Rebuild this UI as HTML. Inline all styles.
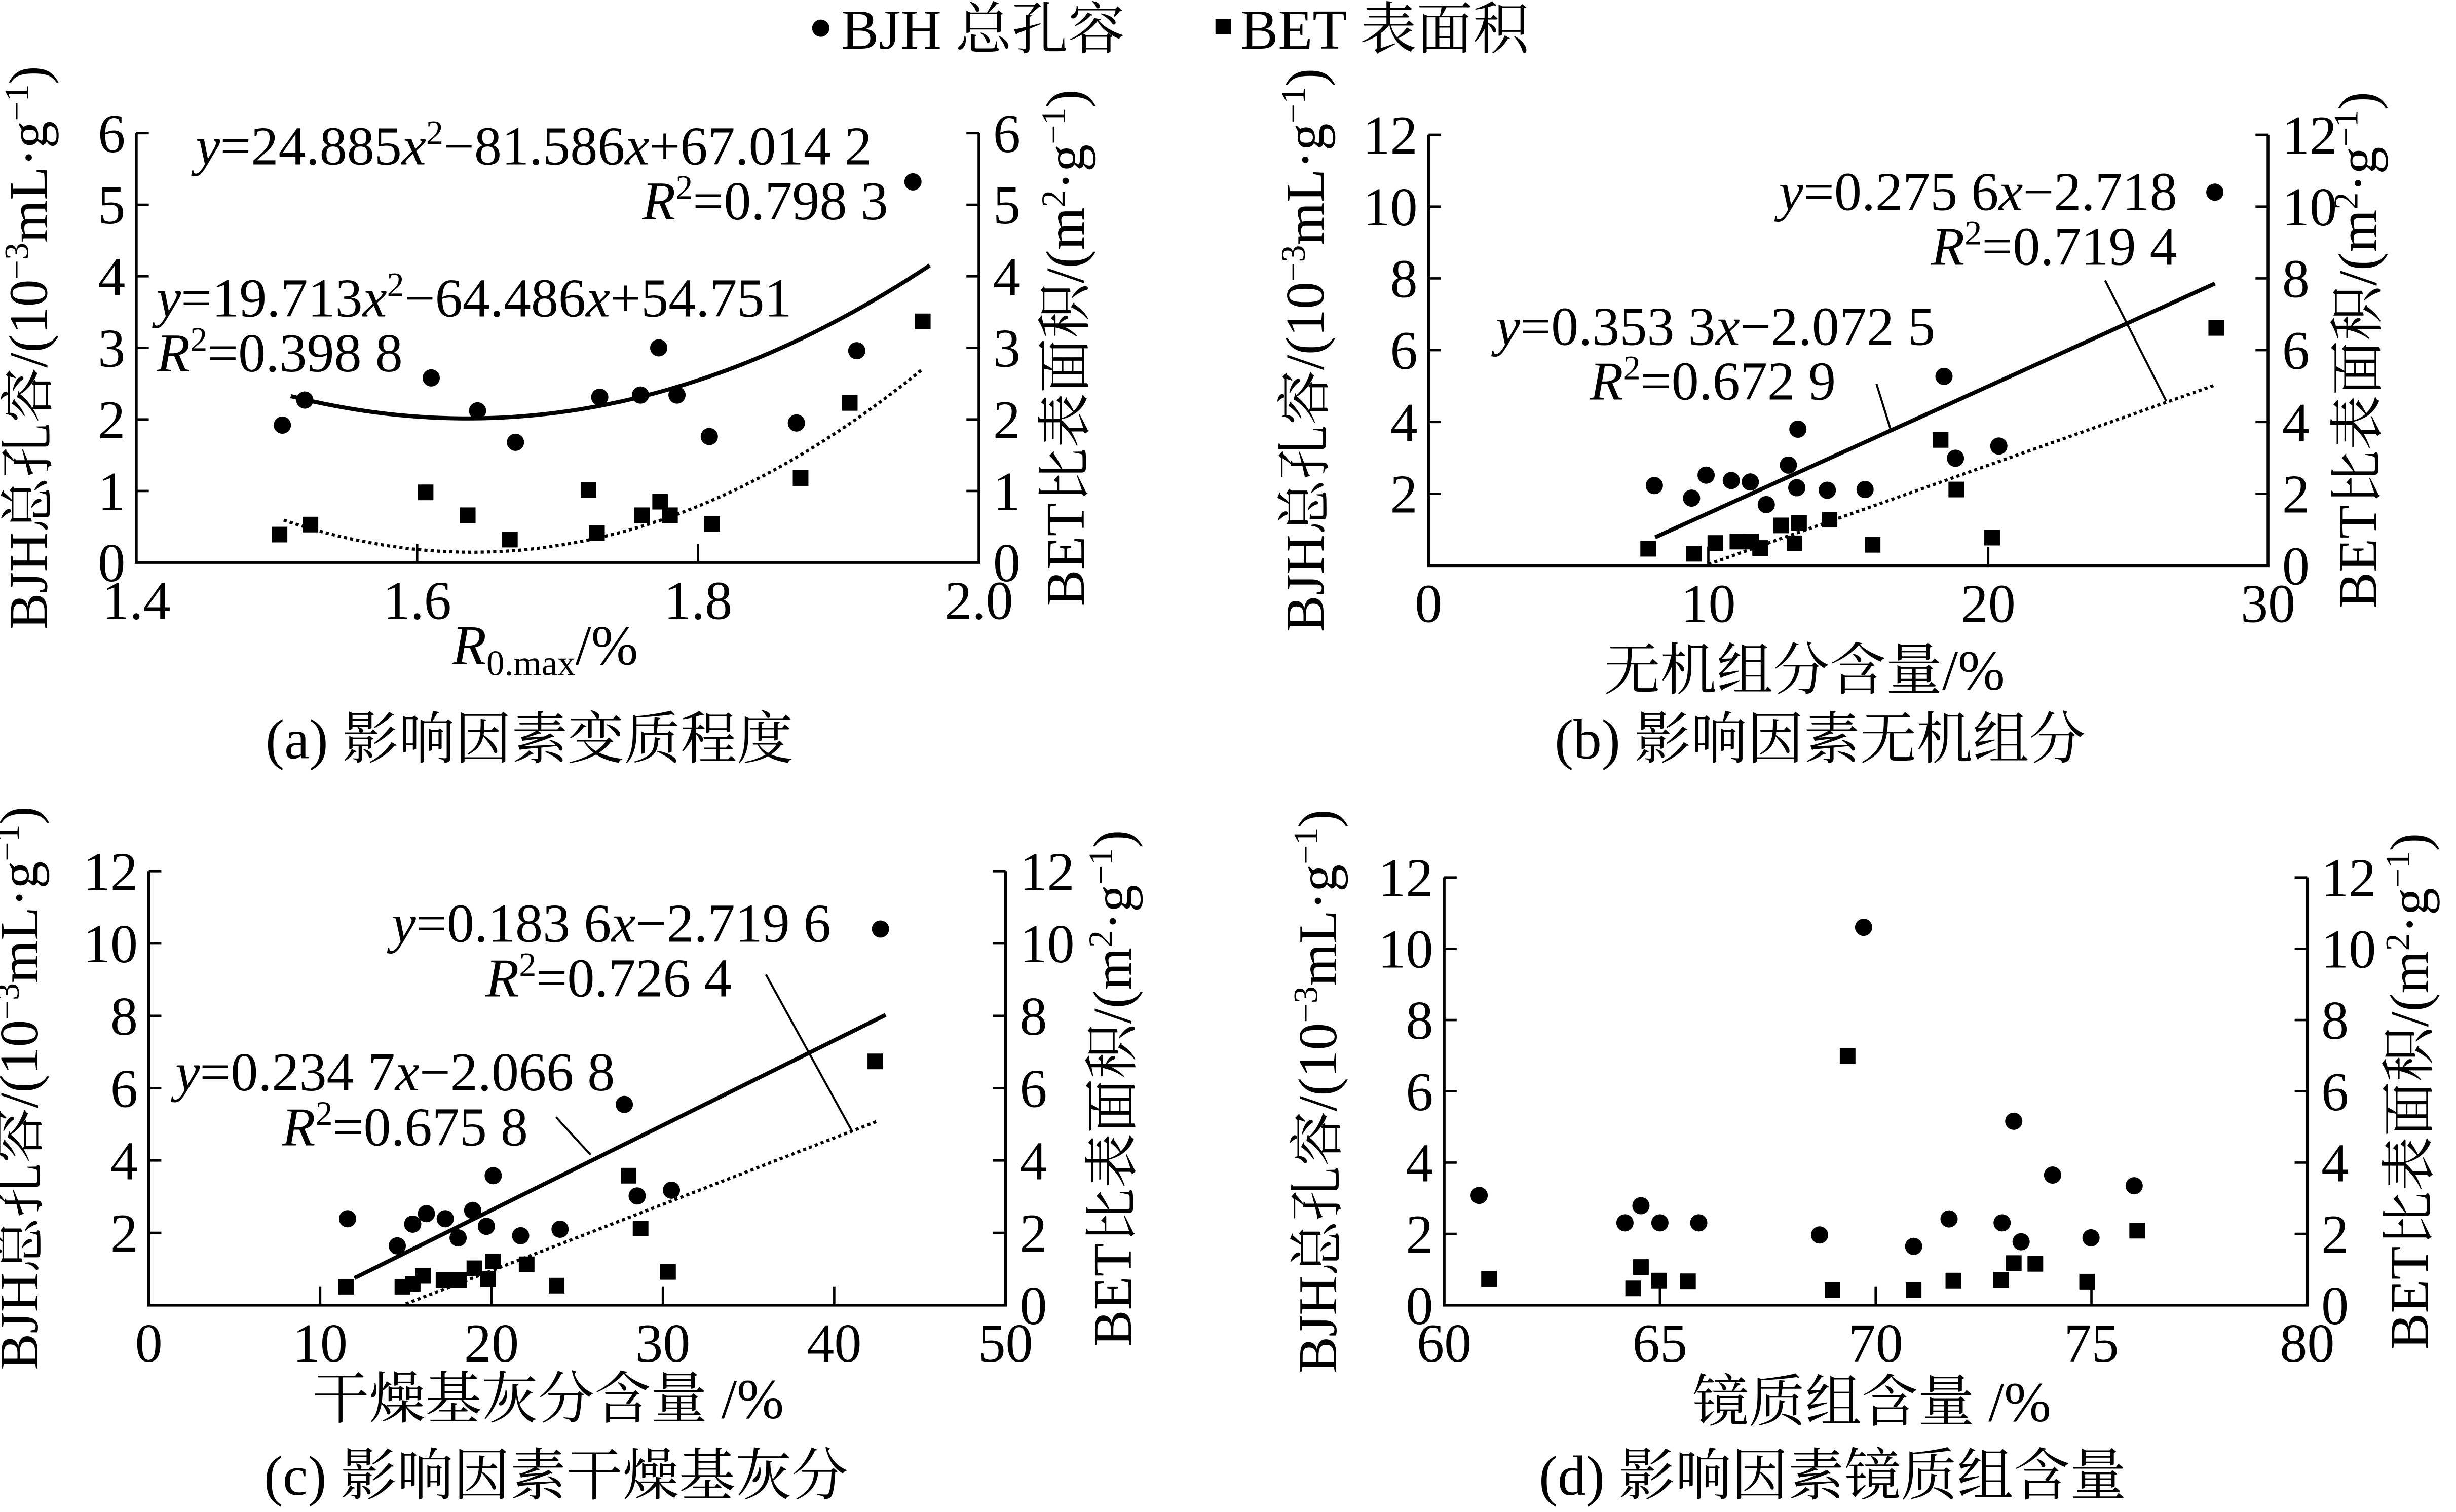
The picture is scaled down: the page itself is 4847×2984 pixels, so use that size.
<!DOCTYPE html>
<html><head><meta charset="utf-8"><style>
html,body{margin:0;padding:0;background:#fff;}
svg{display:block;}
text{font-family:"Liberation Serif","Noto Serif CJK SC","Noto Sans CJK SC",serif;fill:#000;}
</style></head><body>
<svg id="chart" width="4847" height="2984" viewBox="0 0 1568 965" preserveAspectRatio="none" xmlns="http://www.w3.org/2000/svg">
<rect width="1568" height="965" fill="#fff"/>
<g font-size="36">
 <circle cx="524" cy="18" r="5.5" fill="#000"/>
 <text x="537" y="31">BJH 总孔容</text>
 <rect x="776" y="12" width="10" height="10" fill="#000"/>
 <text x="792" y="31">BET 表面积</text>
</g>
<g id="panels"></g>
<g font-size="35" font-family="Liberation Serif">
 <text x="125" y="105"><tspan font-style="italic">y</tspan>=24.885<tspan font-style="italic">x</tspan><tspan dy="-13" font-size="22">2</tspan><tspan dy="13">−81.586</tspan><tspan font-style="italic">x</tspan>+67.014 2</text>
 <text x="567" y="140" text-anchor="end"><tspan font-style="italic">R</tspan><tspan dy="-13" font-size="22">2</tspan><tspan dy="13">=0.798 3</tspan></text>
 <text x="100" y="202"><tspan font-style="italic">y</tspan>=19.713<tspan font-style="italic">x</tspan><tspan dy="-13" font-size="22">2</tspan><tspan dy="13">−64.486</tspan><tspan font-style="italic">x</tspan>+54.751</text>
 <text x="100" y="237"><tspan font-style="italic">R</tspan><tspan dy="-13" font-size="22">2</tspan><tspan dy="13">=0.398 8</tspan></text>
 <text x="1390" y="134" text-anchor="end"><tspan font-style="italic">y</tspan>=0.275 6<tspan font-style="italic">x</tspan>−2.718</text>
 <text x="1390" y="169" text-anchor="end"><tspan font-style="italic">R</tspan><tspan dy="-13" font-size="22">2</tspan><tspan dy="13">=0.719 4</tspan></text>
 <text x="955" y="220"><tspan font-style="italic">y</tspan>=0.353 3<tspan font-style="italic">x</tspan>−2.072 5</text>
 <text x="1015" y="255"><tspan font-style="italic">R</tspan><tspan dy="-13" font-size="22">2</tspan><tspan dy="13">=0.672 9</tspan></text>
 <text x="250" y="601"><tspan font-style="italic">y</tspan>=0.183 6<tspan font-style="italic">x</tspan>−2.719 6</text>
 <text x="310" y="636"><tspan font-style="italic">R</tspan><tspan dy="-13" font-size="22">2</tspan><tspan dy="13">=0.726 4</tspan></text>
 <text x="112" y="696"><tspan font-style="italic">y</tspan>=0.234 7<tspan font-style="italic">x</tspan>−2.066 8</text>
 <text x="180" y="731"><tspan font-style="italic">R</tspan><tspan dy="-13" font-size="22">2</tspan><tspan dy="13">=0.675 8</tspan></text>
</g>
<g stroke="#000" stroke-width="1.3">
 <line x1="1198" y1="245" x2="1207" y2="274"/>
 <line x1="1344" y1="179" x2="1383" y2="256"/>
 <line x1="355" y1="713" x2="377" y2="737"/>
 <line x1="489" y1="622" x2="544" y2="722"/>
</g>
<g font-size="36">
 <text x="348" y="424" text-anchor="middle"><tspan font-style="italic">R</tspan><tspan font-size="23" dy="7">0.max</tspan><tspan dy="-7">/%</tspan></text>
 <text x="338" y="484" text-anchor="middle">(a) 影响因素变质程度</text>
 <text x="1152" y="440" text-anchor="middle">无机组分含量/%</text>
 <text x="1162" y="484" text-anchor="middle">(b) 影响因素无机组分</text>
 <text x="350" y="905" text-anchor="middle">干燥基灰分含量 /%</text>
 <text x="355" y="954" text-anchor="middle">(c) 影响因素干燥基灰分</text>
 <text x="1195" y="907" text-anchor="middle">镜质组含量 /%</text>
 <text x="1170" y="954" text-anchor="middle">(d) 影响因素镜质组含量</text>
</g>
</svg>
<script>
// Panel (a) data
const aBjhX=[1.504,1.52,1.61,1.643,1.67,1.73,1.759,1.772,1.785,1.808,1.87,1.913,1.953];
const aBjhY=[1.92,2.27,2.58,2.12,1.68,2.31,2.34,3.0,2.34,1.76,1.95,2.96,5.32];
const aBetX=[1.502,1.524,1.606,1.636,1.666,1.722,1.728,1.76,1.773,1.78,1.81,1.873,1.908,1.96];
const aBetY=[0.39,0.53,0.98,0.66,0.32,1.01,0.41,0.66,0.85,0.66,0.54,1.18,2.23,3.37];
const aFitBjh=[19.713,-64.486,54.751];
const aFitBet=[24.885,-81.586,67.0142];
// Panel (b)
const bBjhX=[8.07,9.4,9.92,10.82,11.5,12.07,12.86,13.2,13.16,14.25,15.6,18.42,18.83,20.38,28.1];
const bBjhY=[2.23,1.88,2.52,2.37,2.33,1.70,2.80,3.80,2.17,2.10,2.12,5.27,2.99,3.33,10.4];
const bBetX=[7.85,9.48,10.25,11.04,11.53,11.85,12.6,13.24,13.08,14.33,15.87,18.3,18.86,20.14,28.15];
const bBetY=[0.47,0.33,0.63,0.67,0.67,0.49,1.12,1.19,0.62,1.28,0.58,3.5,2.12,0.78,6.62];
const bFitBjh=[0,0.3533,-2.0725];
const bFitBet=[0,0.2756,-2.718];
// Panel (c)
const cBjhX=[11.6,14.5,15.4,16.2,17.3,18.05,18.9,19.7,20.1,21.7,24.0,27.75,28.5,30.5,42.7];
const cBjhY=[2.39,1.64,2.24,2.53,2.39,1.86,2.62,2.18,3.58,1.92,2.10,5.55,3.02,3.18,10.4];
const cBetX=[11.5,14.8,15.4,16.0,17.2,18.1,19.0,19.8,20.1,22.05,23.8,28.0,28.7,30.3,42.4];
const cBetY=[0.51,0.51,0.59,0.81,0.70,0.70,1.02,0.72,1.21,1.13,0.54,3.58,2.12,0.92,6.74];
const cFitBjh=[0,0.2347,-2.0668];
const cFitBet=[0,0.1836,-2.7196];
// Panel (d)
const dBjhX=[60.81,64.19,64.56,65.0,65.9,68.7,69.72,70.88,71.7,72.93,73.2,73.37,74.1,74.99,75.99];
const dBjhY=[3.08,2.31,2.79,2.31,2.31,1.97,10.6,1.65,2.42,2.31,5.16,1.78,3.65,1.89,3.35];
const dBetX=[61.04,64.38,64.56,64.98,65.65,69.0,69.35,70.88,71.8,72.9,73.2,73.7,74.9,76.06];
const dBetY=[0.74,0.47,1.07,0.69,0.67,0.42,6.99,0.42,0.69,0.71,1.18,1.16,0.66,2.09];
// tick label arrays
const aXTicks=[1.4,1.6,1.8,2.0];
const aYTicks=[0,1,2,3,4,5,6];
const bXTicks=[0,10,20,30];
const cXTicks=[0,10,20,30,40,50];
const dXTicks=[60,65,70,75,80];
const yTicks12=[0,2,4,6,8,10,12];

const NS="http://www.w3.org/2000/svg";
const root=document.getElementById('panels');
function mk(tag,attrs,parent){const e=document.createElementNS(NS,tag);for(const k in attrs)e.setAttribute(k,attrs[k]);(parent||root).appendChild(e);return e;}

function panel(id,L,R,B,T,xmin,xmax,ymax,xt,yt,showLeftZero,xfmt,lx,rx){
  const g=mk('g',{});
  
  
  const sx=v=>L+(v-xmin)/(xmax-xmin)*(R-L);
  const sy=v=>B-v/ymax*(B-T);
  const ax=mk('path',{d:`M${L},${T} V${B} H${R} V${T}`,fill:'none',stroke:'#000','stroke-width':1.8},g);
  
  
  yt.forEach(v=>{
    const y=sy(v);
    const t1=mk('line',{x1:L,y1:y,x2:L+8,y2:y,stroke:'#000','stroke-width':1.5},g);
    
    
    const t2=mk('line',{x1:R-8,y1:y,x2:R,y2:y,stroke:'#000','stroke-width':1.5},g);
    
    
    if(v!==0||showLeftZero){
      const tl=mk('text',{x:L-7,y:y+12,'text-anchor':'end','font-size':35},g);tl.textContent=v;
      
      
    }
    const tr=mk('text',{x:R+9,y:y+12,'font-size':35},g);tr.textContent=v;
    
    
  });
  xt.forEach((v,i)=>{
    const x=sx(v);
    if(i>0&&i<xt.length-1){
      const tk=mk('line',{x1:x,y1:B,x2:x,y2:B-12,stroke:'#000','stroke-width':1.5},g);
      
      
    }
    const tx=mk('text',{x:x,y:B+36,'text-anchor':'middle','font-size':35},g);tx.textContent=xfmt(v);
    
    
  });
  const yl=mk('text',{transform:`translate(${lx},${(T+B)/2}) rotate(-90)`,'text-anchor':'middle','font-size':35},g);
  yl.innerHTML='BJH总孔容/(10<tspan dy="-12" font-size="22">−3</tspan><tspan dy="12">mL·g</tspan><tspan dy="-12" font-size="22">−1</tspan><tspan dy="12">)</tspan>';
  
  
  const yr=mk('text',{transform:`translate(${rx},${(T+B)/2}) rotate(-90)`,'text-anchor':'middle','font-size':35},g);
  yr.innerHTML='BET比表面积/(m<tspan dy="-12" font-size="22">2</tspan><tspan dy="12">·g</tspan><tspan dy="-12" font-size="22">−1</tspan><tspan dy="12">)</tspan>';
  
  
  return {g,sx,sy};
}
function dots(p,X,Y){X.forEach((x,i)=>{const c=mk('circle',{cx:p.sx(x),cy:p.sy(Y[i]),r:5.5,fill:'#000'},p.g);
  
  });}
function squares(p,X,Y){X.forEach((x,i)=>{const r=mk('rect',{x:p.sx(x)-5,y:p.sy(Y[i])-5,width:10,height:10,fill:'#000'},p.g);
  
  });}
function fit(p,c,x0,x1,dashed,name){
  let d='';for(let k=0;k<=60;k++){const x=x0+(x1-x0)*k/60;const y=c[0]*x*x+c[1]*x+c[2];d+=(k?'L':'M')+p.sx(x).toFixed(2)+','+p.sy(y).toFixed(2);}
  const e=mk('path',{d:d,fill:'none',stroke:'#000','stroke-width':dashed?2:2.6,'stroke-dasharray':dashed?'2,2':'none'},p.g);
  
  
}
const pa=panel('a',87,625,359,85,1.4,2.0,6,aXTicks,aYTicks,true,v=>v.toFixed(1),30,692);
fit(pa,aFitBjh,1.51,1.965,false,'fit-curve-bjh');fit(pa,aFitBet,1.505,1.96,true,'fit-curve-bet');
dots(pa,aBjhX,aBjhY);squares(pa,aBetX,aBetY);
const pb=panel('b',912,1448,361,86,0,30,12,bXTicks,yTicks12,false,v=>v,845,1517);
fit(pb,bFitBjh,8.1,28.1,false,'fit-line-bjh');fit(pb,bFitBet,10,28.1,true,'fit-line-bet');
dots(pb,bBjhX,bBjhY);squares(pb,bBetX,bBetY);
const pc=panel('c',95,642,833,556,0,50,12,cXTicks,yTicks12,false,v=>v,24,722);
fit(pc,cFitBjh,12,43,false,'fit-line-bjh');fit(pc,cFitBet,15,42.5,true,'fit-line-bet');
dots(pc,cBjhX,cBjhY);squares(pc,cBetX,cBetY);
const pd=panel('d',922,1473,833,560,60,80,12,dXTicks,yTicks12,true,v=>v,853,1550);
dots(pd,dBjhX,dBjhY);squares(pd,dBetX,dBetY);
</script>
</body></html>
